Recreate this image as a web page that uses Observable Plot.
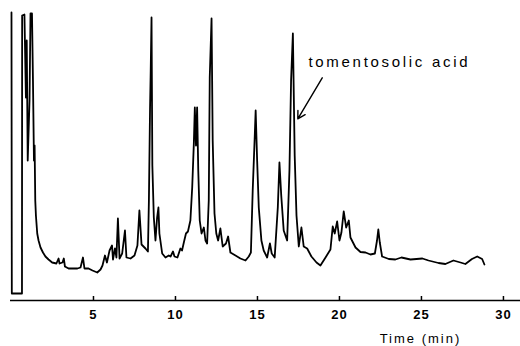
<!DOCTYPE html>
<html><head><meta charset="utf-8">
<script src="https://cdn.jsdelivr.net/npm/d3@7"></script>
<script src="https://cdn.jsdelivr.net/npm/@observablehq/plot@0.6"></script>
<style>
body{margin:0;background:#fff}
</style>
</head><body><div id="chart"></div>
<script>
const time = [0, 0.02, 0.64, 0.65, 0.79, 0.88, 0.93, 0.99, 1.10, 1.16,
 1.25, 1.31, 1.37, 1.41, 1.45, 1.49, 1.57, 1.65, 1.77, 1.92,
 2.07, 2.26, 2.48, 2.74, 2.87, 2.93, 3.11, 3.19, 3.26, 3.48,
 3.72, 4.02, 4.21, 4.36, 4.45, 4.70, 4.94, 5.23, 5.43, 5.55,
 5.70, 5.82, 5.98, 6.07, 6.13, 6.19, 6.31, 6.40, 6.49, 6.59,
 6.75, 6.92, 7.01, 7.26, 7.50, 7.68, 7.80, 7.93, 8.17, 8.32,
 8.38, 8.45, 8.49, 8.54, 8.59, 8.68, 8.78, 8.88, 8.96, 9.02,
 9.19, 9.39, 9.59, 9.70, 9.85, 9.94, 10.12, 10.30, 10.40, 10.51,
 10.64, 10.76, 10.91, 11.02, 11.12, 11.18, 11.25, 11.32, 11.39, 11.48,
 11.59, 11.73, 11.83, 11.93, 12.03, 12.09, 12.20, 12.27, 12.38, 12.49,
 12.60, 12.74, 12.88, 13.08, 13.21, 13.35, 13.66, 13.96, 14.27, 14.47,
 14.60, 14.71, 14.84, 14.89, 14.98, 15.08, 15.24, 15.38, 15.59, 15.76,
 15.87, 16.05, 16.24, 16.34, 16.45, 16.60, 16.81, 16.95, 17.05, 17.16,
 17.27, 17.38, 17.52, 17.68, 17.82, 18.03, 18.29, 18.60, 18.84, 19.15,
 19.45, 19.59, 19.71, 19.86, 20.00, 20.12, 20.26, 20.41, 20.57, 20.67,
 20.98, 21.28, 21.59, 21.89, 22.16, 22.29, 22.37, 22.46, 22.60, 23.01,
 23.41, 23.78, 24.33, 24.70, 25.06, 25.43, 26.04, 26.46, 26.95, 27.38,
 27.68, 28.08, 28.40, 28.70, 28.84];
const signal = [288, 7, 7, 285, 286, 203, 260, 140, 200, 287,
 287, 220, 140, 155, 100, 85, 67, 60, 53, 48,
 44, 41, 38, 37, 42, 37, 38, 42, 34, 32,
 32, 32, 33, 43, 32, 32, 30, 28, 31, 35,
 45, 38, 50, 53, 55, 41, 52, 43, 82, 42,
 47, 70, 43, 42, 45, 55, 90, 56, 52, 49,
 100, 193, 230, 283, 135, 83, 60, 83, 93, 67,
 47, 43, 45, 44, 49, 44, 43, 52, 50, 58,
 67, 69, 80, 113, 157, 193, 155, 193, 130, 80,
 67, 73, 60, 57, 100, 223, 282, 160, 87, 67,
 60, 72, 54, 57, 64, 48, 45, 42, 40, 44,
 48, 110, 167, 190, 140, 93, 60, 50, 43, 57,
 47, 43, 93, 138, 105, 70, 60, 130, 220, 267,
 145, 85, 54, 73, 54, 52, 44, 38, 35, 43,
 51, 74, 67, 79, 60, 68, 89, 73, 80, 63,
 53, 48.5, 48, 46, 47, 60, 71, 58, 44, 41.5,
 41, 43, 41, 41.5, 42, 40, 37.5, 36.5, 40, 38,
 36.5, 41.5, 44, 41.5, 36];
const xTicks = [5, 10, 15, 20, 25, 30];
const xLabel = "Time (min)";
const annotationText = "tomentosolic acid";
const annotationAt = {x: 18.11, y: 238};
const arrowFrom = {x: 18.95, y: 222.7};
const arrowTo = {x: 17.46, y: 181.7};
const xLabelAt = {x: 24.94, y: -38};

const rows = time.map((t, i) => ({t, s: signal[i]}));

const chart = Plot.plot({
  width: 520, height: 346,
  marginLeft: 10, marginRight: 0, marginTop: 10, marginBottom: 46,
  x: {domain: [-0.06, 31.04], ticks: xTicks, tickSize: 0, tickPadding: 9, tickFormat: d => String(d), label: null},
  y: {domain: [0, 290], axis: null},
  style: {fontFamily: "'Liberation Sans', Arial, sans-serif", fontSize: "13px", color: "#000", background: "#fff"},
  marks: [
    Plot.ruleY([0], {stroke: "#000", strokeWidth: 1.5}),
    Plot.ruleX(xTicks, {x: d => d, y1: 0, y2: 4, stroke: "#000", strokeWidth: 1.5}),
    Plot.line(rows, {x: "t", y: "s", stroke: "#000", strokeWidth: 1.8, strokeLinejoin: "round"}),
    Plot.arrow([0], {x1: () => arrowFrom.x, y1: () => arrowFrom.y, x2: () => arrowTo.x, y2: () => arrowTo.y, stroke: "#000", strokeWidth: 1.4, headLength: 9}),
    Plot.text([annotationText], {x: () => annotationAt.x, y: () => annotationAt.y, text: d => d, textAnchor: "start", lineAnchor: "middle", fontSize: 15, fill: "#000"}),
    Plot.text([xLabel], {x: () => xLabelAt.x, y: () => xLabelAt.y, text: d => d, textAnchor: "middle", lineAnchor: "middle", fontSize: 13, fill: "#000"})
  ]
});
document.getElementById("chart").appendChild(chart);
d3.select(chart).selectAll("text").each(function() {
  const t = this.textContent;
  const el = d3.select(this);
  if (t === annotationText) el.style("letter-spacing", "2.7px");
  else if (t === xLabel) el.style("letter-spacing", "2px");
  else if (xTicks.map(String).includes(t)) el.style("letter-spacing", "1px").style("font-weight", "bold");
});
</script>
</body></html>
